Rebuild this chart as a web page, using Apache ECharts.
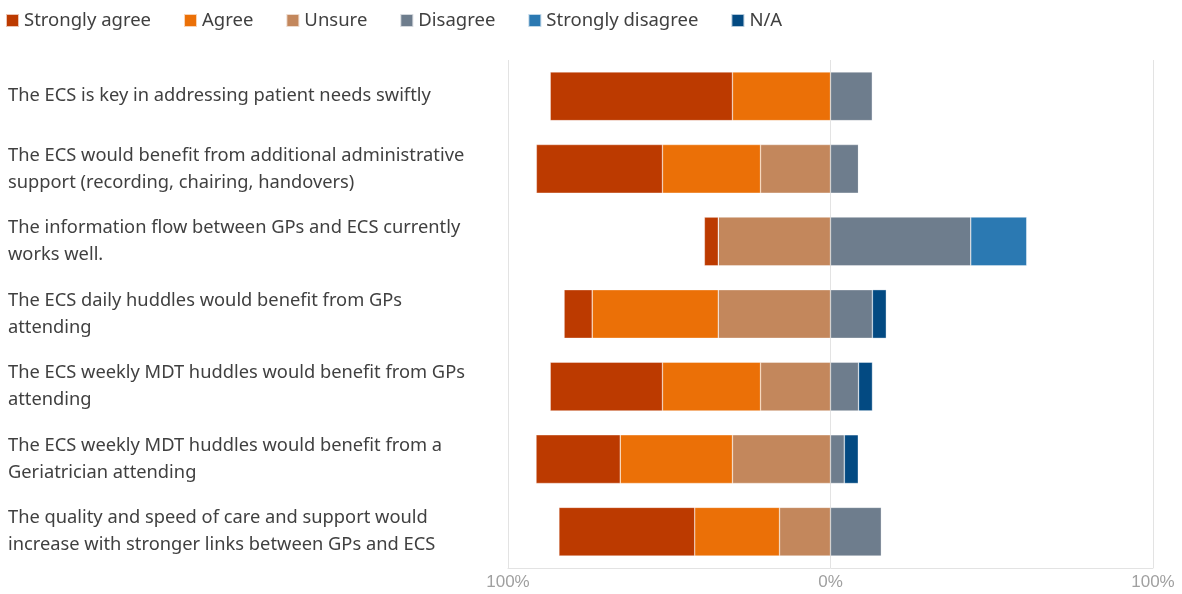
<!DOCTYPE html>
<html>
<head>
<meta charset="utf-8">
<script src="https://cdn.jsdelivr.net/npm/echarts@6/dist/echarts.min.js"></script>
<style>
  html, body { margin: 0; padding: 0; background: #fff; }
  #chart { width: 1182px; height: 594px; }
</style>
</head>
<body>
<div id="chart"></div>
<script>
  // statements, top to bottom
  const questions = [
    "The ECS is key in addressing patient needs swiftly",
    "The ECS would benefit from additional administrative\nsupport (recording, chairing, handovers)",
    "The information flow between GPs and ECS currently\nworks well.",
    "The ECS daily huddles would benefit from GPs\nattending",
    "The ECS weekly MDT huddles would benefit from GPs\nattending",
    "The ECS weekly MDT huddles would benefit from a\nGeriatrician attending",
    "The quality and speed of care and support would\nincrease with stronger links between GPs and ECS"
  ];

  // percentages per answer, same order as questions
  const stronglyAgree = [56.5, 39.1, 4.3, 8.7, 34.8, 26.1, 42.1];
  const agree = [30.4, 30.4, 0, 39.1, 30.4, 34.8, 26.3];
  const unsure = [0, 21.7, 34.8, 34.8, 21.7, 30.4, 15.8];
  const disagree = [13.0, 8.7, 43.5, 13.0, 8.7, 4.3, 15.8];
  const stronglyDisagree = [0, 0, 17.4, 0, 0, 0, 0];
  const notApplicable = [0, 0, 0, 4.3, 4.3, 4.3, 0];

  const xTicks = [-100, 0, 100];

  const neg = (arr) => arr.map((v) => -v);

  const mkSeries = (name, data, color) => ({
    name,
    type: "bar",
    stack: "total",
    barCategoryGap: "33%",
    data,
    itemStyle: { color, borderColor: "rgba(255,255,255,0.7)", borderWidth: 0.5 },
    emphasis: { disabled: true },
  });

  const myChart = echarts.init(document.getElementById("chart"));
  const option = {
    animation: false,
    textStyle: { fontFamily: "Noto Sans" },
    legend: {
      top: 6,
      left: 0,
      icon: "rect",
      itemWidth: 13,
      itemHeight: 13,
      itemGap: 32,
      textStyle: { fontSize: 18.5, color: "#404040", fontFamily: "Noto Sans" },
      data: ["Strongly agree", "Agree", "Unsure", "Disagree", "Strongly disagree", "N/A"],
    },
    grid: { left: 508, right: 29, top: 60, bottom: 26, containLabel: false },
    xAxis: {
      type: "value",
      min: xTicks[0],
      max: xTicks[xTicks.length - 1],
      interval: 100,
      axisLine: { show: true, lineStyle: { color: "#e3e3e3" } },
      axisTick: { show: false },
      splitLine: { show: true, lineStyle: { color: "#e3e3e3" } },
      axisLabel: {
        color: "#a0a0a0",
        fontSize: 17,
        fontFamily: "Liberation Sans",
        margin: 6,
        formatter: (v) => Math.abs(v) + "%",
      },
    },
    yAxis: {
      type: "category",
      inverse: true,
      data: questions,
      axisLine: { show: false },
      axisTick: { show: false },
      axisLabel: {
        align: "left",
        margin: 500,
        fontSize: 18.3,
        lineHeight: 27,
        color: "#404040",
        fontFamily: "Noto Sans",
      },
    },
    series: [
      mkSeries("Unsure", neg(unsure), "#C3875C"),
      mkSeries("Agree", neg(agree), "#EB7007"),
      mkSeries("Strongly agree", neg(stronglyAgree), "#BC3A00"),
      mkSeries("Disagree", disagree, "#6E7D8D"),
      mkSeries("Strongly disagree", stronglyDisagree, "#2B79B2"),
      mkSeries("N/A", notApplicable, "#034A82"),
    ],
  };
  myChart.setOption(option);
</script>
</body>
</html>
